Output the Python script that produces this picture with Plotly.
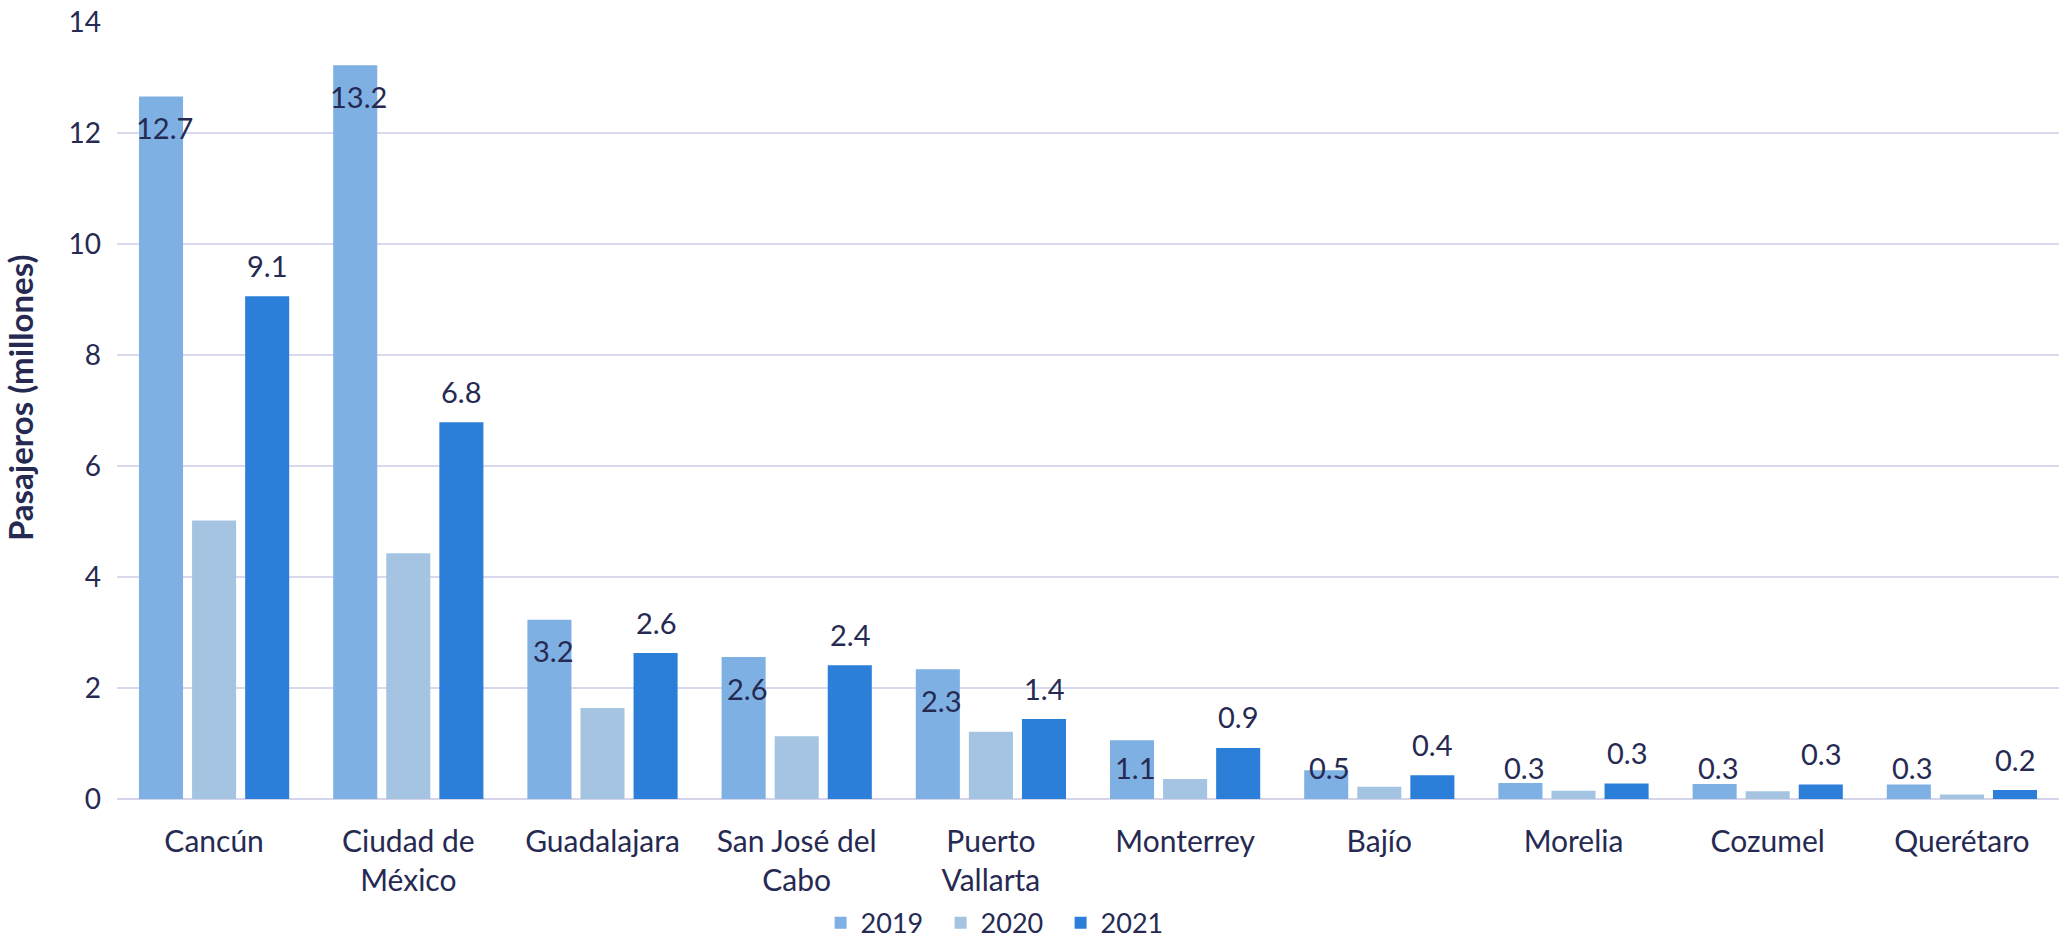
import plotly.graph_objects as go

categories = ["Cancún", "Ciudad de<br>México", "Guadalajara", "San José del<br>Cabo",
              "Puerto<br>Vallarta", "Monterrey", "Bajío", "Morelia", "Cozumel", "Querétaro"]
v2019 = [12.66, 13.22, 3.23, 2.56, 2.34, 1.06, 0.52, 0.29, 0.27, 0.26]
v2020 = [5.02, 4.43, 1.64, 1.13, 1.21, 0.36, 0.22, 0.15, 0.14, 0.08]
v2021 = [9.06, 6.79, 2.63, 2.41, 1.44, 0.92, 0.43, 0.28, 0.26, 0.16]
years = ["2019", "2020", "2021"]
y_ticks = [0, 2, 4, 6, 8, 10, 12, 14]

colors = {"2019": "#7FB0E4", "2020": "#A4C4E2", "2021": "#2B7FD8"}
TEXT = "#262A52"
FONT = "Lato"
FS = 29

fig = go.Figure()
for yr, vals in zip(years, [v2019, v2020, v2021]):
    fig.add_trace(go.Bar(
        x=categories, y=vals, name=yr,
        marker=dict(color=colors[yr], line=dict(width=0)),
        hoverinfo="x+y",
    ))

SLOT = 53  # px between bar centres in a group
annotations = []
for c, v in zip(categories, v2019):
    ylab = max(v - 0.56, 0.56)
    annotations.append(dict(x=c, y=ylab, xref="x", yref="y", text=f"{v:.1f}",
                            showarrow=False, xshift=-SLOT + 3, yanchor="middle",
                            font=dict(family=FONT, size=FS, color=TEXT)))
for c, v in zip(categories, v2021):
    annotations.append(dict(x=c, y=v, xref="x", yref="y", text=f"{v:.1f}",
                            showarrow=False, xshift=SLOT, yshift=31, yanchor="middle",
                            font=dict(family=FONT, size=FS, color=TEXT)))
# y-axis title
annotations.append(dict(x=0, y=0.516, xref="paper", yref="paper", xshift=-97,
                        text="<b>Pasajeros (millones)</b>", textangle=-90, showarrow=False,
                        xanchor="center", yanchor="middle",
                        font=dict(family=FONT, size=33, color=TEXT)))

fig.update_layout(
    width=2059, height=942,
    margin=dict(l=117, r=0, t=22, b=143, pad=0, autoexpand=False),
    paper_bgcolor="white", plot_bgcolor="white",
    font=dict(family=FONT, size=FS, color=TEXT),
    barmode="group", bargap=0.18, bargroupgap=0.17,
    showlegend=True,
    legend=dict(orientation="h", x=0.455, xanchor="center",
                y=-0.16, yanchor="middle", font=dict(family=FONT, size=27, color=TEXT),
                entrywidth=75, entrywidthmode="pixels", traceorder="normal"),
    annotations=annotations,
    xaxis=dict(showgrid=False, showline=False, ticks="", tickfont=dict(size=30, color=TEXT),
               ticklabelstandoff=22, tickangle=0, automargin=False),
    yaxis=dict(range=[0, 14.001], tickvals=y_ticks, showgrid=True, gridcolor="#D9D9EE", gridwidth=2,
               zeroline=True, zerolinecolor="#D4D4EA", zerolinewidth=2,
               showline=False, ticks="", tickfont=dict(size=28, color=TEXT),
               ticklabelstandoff=15, automargin=False),
)

fig.write_html("out.html", config={"displayModeBar": False},
               post_script="document.body.style.margin='0';document.body.style.overflow='hidden';")
